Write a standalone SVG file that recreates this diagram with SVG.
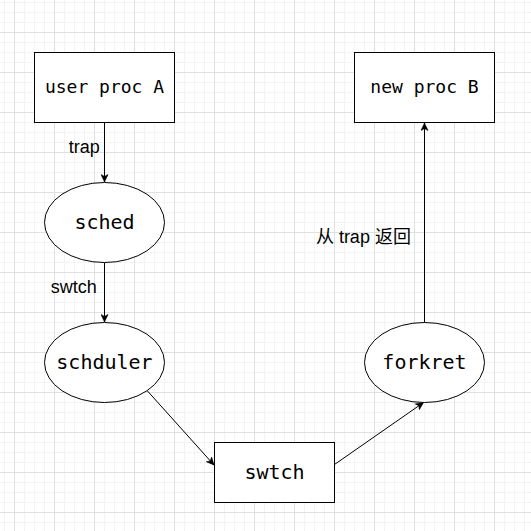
<svg xmlns="http://www.w3.org/2000/svg" width="531" height="531" viewBox="0 0 531 531">
<style>
.node{fill:#fff;stroke:#000;stroke-width:1}
.mono{font-family:"DejaVu Sans Mono","Liberation Mono",monospace;fill:#000;text-anchor:middle}
.m18{font-size:18px}
.m20{font-size:20px}
.lbl{font-family:"Liberation Sans","Noto Sans CJK SC",sans-serif;font-size:18px;fill:#000;text-anchor:middle}
.edge{fill:none;stroke:#000;stroke-width:1}
</style>
<defs>
<pattern id="minor" patternUnits="userSpaceOnUse" x="4" y="2" width="10" height="10">
<rect x="0" y="0" width="1" height="10" fill="#f3f3f3"/>
<rect x="0" y="0" width="10" height="1" fill="#f3f3f3"/>
</pattern>
<pattern id="major" patternUnits="userSpaceOnUse" x="14" y="32" width="40" height="40">
<rect x="0" y="0" width="1" height="40" fill="#e0e0e0"/>
<rect x="0" y="0" width="40" height="1" fill="#e0e0e0"/>
</pattern>
<marker id="arr" viewBox="-8 -4 9 8" refX="0" refY="0" markerWidth="9" markerHeight="8" markerUnits="userSpaceOnUse" orient="auto">
<path d="M0 0L-7.5 -3.5L-5.5 0L-7.5 3.5Z" fill="#000" stroke="#000" stroke-width="0.6"/>
</marker>
</defs>
<rect width="531" height="531" fill="#fff"/>
<rect width="531" height="531" fill="url(#minor)"/>
<rect width="531" height="531" fill="url(#major)"/>
<g id="connectors">
<path class="edge" d="M104.5 122.5V182" marker-end="url(#arr)"/>
<path class="edge" d="M104.5 262.5V322" marker-end="url(#arr)"/>
<path class="edge" d="M147.5 391L214 465" marker-end="url(#arr)"/>
<path class="edge" d="M334.5 464.5L423.5 402.5" marker-end="url(#arr)"/>
<path class="edge" d="M424.5 322.5V123" marker-end="url(#arr)"/>
<text class="lbl" x="84.2" y="153">trap</text>
<text class="lbl" x="73.7" y="292.5">swtch</text>
<text class="lbl" x="363.4" y="243">从 trap 返回</text>
</g>
<g id="userProcA">
<rect class="node" x="34.5" y="52.5" width="140" height="70"/>
<text class="mono m18" x="104.5" y="92.5">user proc A</text>
</g>
<g id="newProcB">
<rect class="node" x="354.5" y="52.5" width="140" height="70"/>
<text class="mono m18" x="424.5" y="92.5">new proc B</text>
</g>
<g id="sched">
<ellipse class="node" cx="104.5" cy="222.5" rx="60" ry="40"/>
<text class="mono m20" x="104.5" y="229">sched</text>
</g>
<g id="schduler">
<ellipse class="node" cx="104.5" cy="362.5" rx="60" ry="40"/>
<text class="mono m20" x="104.5" y="369">schduler</text>
</g>
<g id="forkret">
<ellipse class="node" cx="424.5" cy="362.5" rx="60" ry="40"/>
<text class="mono m20" x="424.5" y="369">forkret</text>
</g>
<g id="swtch">
<rect class="node" x="214.5" y="442.5" width="120" height="60"/>
<text class="mono m20" x="274.5" y="479">swtch</text>
</g>
</svg>
